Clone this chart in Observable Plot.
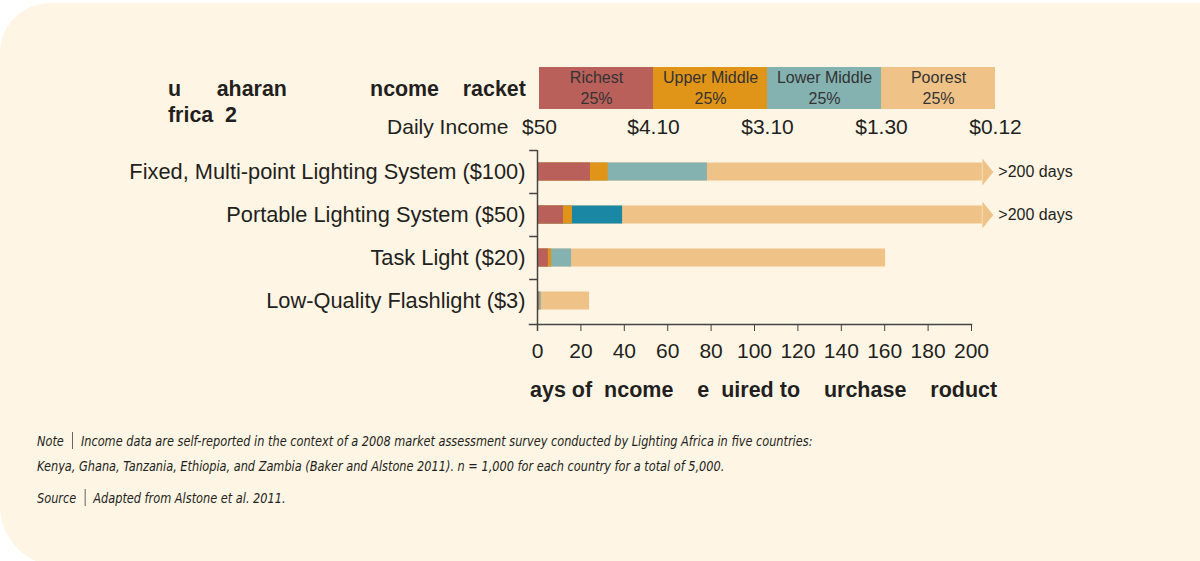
<!DOCTYPE html>
<html>
<head>
<meta charset="utf-8">
<script src="https://cdn.jsdelivr.net/npm/d3@7"></script>
<script src="https://cdn.jsdelivr.net/npm/@observablehq/plot@0.6"></script>
<style>
  html, body { margin: 0; padding: 0; background: #ffffff; }
  #wrap { position: relative; width: 1200px; height: 561px; overflow: hidden;
          font-family: "Liberation Sans", Arial, sans-serif; color: #231f20; }
  #panel { position: absolute; left: 0; top: 3px; width: 1200px; height: 563px;
           background: #fef5e4; border-radius: 50px 0 0 60px; }
  .abs { position: absolute; white-space: pre; }
  .title { left: 168px; font-weight: bold; font-size: 21.4px; line-height: 24px; }
  #xlabel { left: 530px; top: 378px; font-weight: bold; font-size: 21.5px; line-height: 24px; }
  .note { left: 37px; font-family: "DejaVu Sans Condensed", "Liberation Sans", sans-serif;
          font-style: italic; font-size: 14px; line-height: 18px; color: #231f20;
          transform: scaleX(0.9); transform-origin: 0 0; }
  .sep { display: inline-block; width: 0; height: 17px; border-left: 1px solid #555; vertical-align: -3px; margin: 0 9px; }
  .plotlayer { position: absolute; left: 0; top: 0; }
</style>
</head>
<body>
<div id="wrap">
  <div id="panel"></div>
  <div class="abs title" style="top:77px">u      aharan              ncome    racket</div>
  <div class="abs title" style="top:103px">frica  2</div>
  <div id="header" class="plotlayer"></div>
  <div id="main" class="plotlayer"></div>
  <div id="xlabel" class="abs">ays of  ncome    e  uired to    urchase    roduct</div>
  <div class="abs note" style="top:432px">Note<span class="sep"></span>Income data are self-reported in the context of a 2008 market assessment survey conducted by Lighting Africa in five countries:</div>
  <div class="abs note" style="top:457px">Kenya, Ghana, Tanzania, Ethiopia, and Zambia (Baker and Alstone 2011). n = 1,000 for each country for a total of 5,000.</div>
  <div class="abs note" style="top:489px">Source<span class="sep"></span>Adapted from Alstone et al. 2011.</div>
</div>
<script>
// ---------- data ----------
const products = [
  "Fixed, Multi-point Lighting System ($100)",
  "Portable Lighting System ($50)",
  "Task Light ($20)",
  "Low-Quality Flashlight ($3)"
];
// days of income required, per income quintile
const richest     = [24.4, 12.0, 5.0, 0.8];
const upperMiddle = [32.6, 16.1, 6.5, 1.0];
const lowerMiddle = [78.3, 39.2, 15.7, 1.8];
const poorest     = [205, 205, 160.4, 24.0];   // first two run off the axis (>200)
const overflowLabels = [">200 days", ">200 days", null, null];

const quintiles = ["Richest", "Upper Middle", "Lower Middle", "Poorest"];
const shares = [25, 25, 25, 25];
const incomeBreaks = ["$50", "$4.10", "$3.10", "$1.30", "$0.12"];
const xTicks = [0, 20, 40, 60, 80, 100, 120, 140, 160, 180, 200];

// ---------- styles ----------
const colors = { "Richest": "#b9605a", "Upper Middle": "#e09518", "Lower Middle": "#84b2b0", "Poorest": "#efc387" };
const highlightTeal = "#1a87a5"; // lower-middle segment of the portable system
const ink = "#231f20";
const axisInk = "#444444";
const font = '"Liberation Sans", Arial, sans-serif';

// ---------- tables ----------
const seriesValues = { "Richest": richest, "Upper Middle": upperMiddle, "Lower Middle": lowerMiddle, "Poorest": poorest };
const drawOrder = ["Poorest", "Lower Middle", "Upper Middle", "Richest"];
const rows = [];
products.forEach((p, i) => {
  drawOrder.forEach(s => {
    rows.push({
      product: p, series: s, days: seriesValues[s][i],
      color: (s === "Lower Middle" && i === 1) ? highlightTeal : colors[s]
    });
  });
});
const overflowRows = products
  .map((p, i) => ({ product: p, days: poorest[i], label: overflowLabels[i] }))
  .filter(d => d.label);

let acc = 0;
const legendRows = quintiles.map((q, i) => {
  const start = acc; acc += shares[i];
  return { name: q, share: shares[i], start, end: acc, mid: (start + acc) / 2, color: colors[q] };
});
const breakRows = incomeBreaks.map((lab, i) => ({
  label: lab, pos: i === 0 ? 0 : legendRows[i - 1].end
}));

// ---------- arrow head symbol ----------
const arrowHead = {
  draw(context) {
    context.moveTo(0, -13.5);
    context.lineTo(11, 0);
    context.lineTo(0, 13.5);
    context.closePath();
  }
};

// ---------- header (income bracket strip) ----------
const header = Plot.plot({
  width: 1200, height: 150,
  marginLeft: 539, marginRight: 205, marginTop: 67, marginBottom: 41,
  style: { background: "transparent", fontFamily: font, color: ink, overflow: "visible" },
  x: { domain: [0, 100], axis: null },
  marks: [
    Plot.barX(legendRows, { x1: "start", x2: "end", fill: "color" }),
    Plot.text(legendRows, { x: "mid", text: d => d.name + "\n" + d.share + "%", fontSize: 16, lineHeight: 1.31, dy: -2, fill: "#333333" }),
    Plot.text(breakRows, { x: "pos", text: "label", frameAnchor: "bottom", lineAnchor: "middle", dy: 18, fontSize: 21, fill: ink }),
    Plot.text([breakRows[0]], { x: "pos", text: () => "Daily Income", frameAnchor: "bottom", lineAnchor: "middle", textAnchor: "end", dy: 18, dx: -31, fontSize: 21, fill: ink })
  ]
});
document.getElementById("header").appendChild(header);

// ---------- main chart ----------
const main = Plot.plot({
  width: 1200, height: 561,
  marginLeft: 537, marginRight: 229, marginTop: 150, marginBottom: 237,
  style: { background: "transparent", fontFamily: font, color: ink, overflow: "visible" },
  x: { domain: [0, 200] },
  y: { domain: products, range: [150, 322], padding: 0 },
  color: { type: "identity" },
  marks: [
    Plot.barX(rows, { y: "product", x1: 0, x2: "days", fill: "color", insetTop: 12.5, insetBottom: 12.5 }),
    Plot.dot(overflowRows, { x: "days", y: "product", symbol: arrowHead, fill: colors["Poorest"], stroke: null }),
    Plot.text(overflowRows, { x: "days", y: "product", text: "label", dx: 16, textAnchor: "start", fontSize: 16, fill: ink }),
    Plot.axisX({ ticks: xTicks, tickSize: 7, tickPadding: 12, fontSize: 21, label: null, stroke: axisInk, fill: ink }),
    Plot.axisY({ tickSize: 0, tickPadding: 12, fontSize: 21.8, label: null, fill: ink }),
    Plot.ruleY(products, { y: d => d, x1: -3.6, x2: 0, dy: -21.5, stroke: axisInk, strokeWidth: 1.5 }),
    Plot.ruleX([0], { insetBottom: -7, stroke: axisInk, strokeWidth: 1.5 }),
    Plot.frame({ anchor: "bottom", insetLeft: -8, stroke: axisInk, strokeWidth: 1.5 })
  ]
});
document.getElementById("main").appendChild(main);
</script>
</body>
</html>
